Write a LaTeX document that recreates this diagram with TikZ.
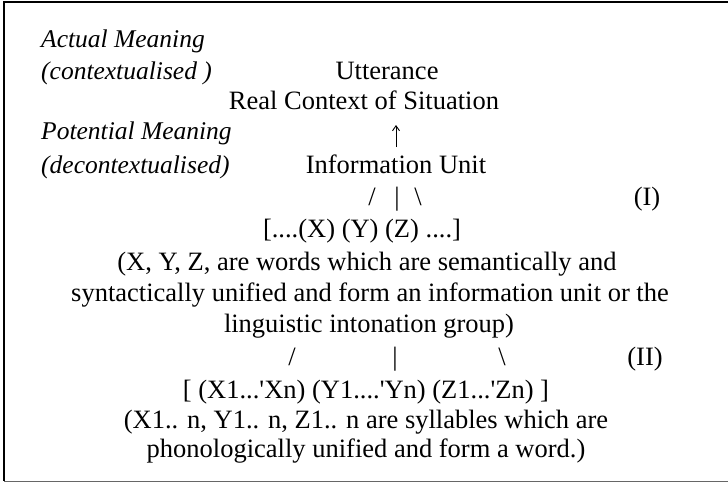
\documentclass[tikz,border=0pt]{standalone}
\usepackage{fontspec}
\usetikzlibrary{arrows.meta}
\setmainfont{Liberation Serif}
\begin{document}
\begin{tikzpicture}[x=1pt,y=-1pt,
            txt/.style={font=\fontsize{26.5}{30}\selectfont,inner sep=0pt,anchor=base},
            lbl/.style={font=\fontsize{25.5}{30}\selectfont\itshape,inner sep=0pt,anchor=base west}]
            \useasboundingbox (0,0) rectangle (728,483);
            \draw[line width=1.6pt] (728,2) -- (4,2) -- (4,481);
            \draw[line width=1pt,black!60] (4,481) -- (728,481);
            \node[lbl] (actual) at (41,47) {Actual Meaning};
            \node[lbl] (context) at (41,79) {(contextualised )};
            \node[lbl] (potential) at (41,139) {Potential Meaning};
            \node[lbl] (decontext) at (41,173) {(decontextualised)};
            \node[txt] (utter) at (387,79) {Utterance};
            \node[txt] (real) at (364,109) {Real Context of Situation};
            \coordinate (upfoot) at (396,147);
            \coordinate (uptip) at (396,125);
            \draw[-{Straight Barb[length=5pt,width=7pt]},line width=0.9pt] (upfoot) -- (uptip);
            \node[txt] (info) at (396,173) {Information Unit};
            \node[txt] (slashA) at (372,205) {/};
            \node[txt] (barA) at (397,205) {|};
            \node[txt] (bslashA) at (418,205) {\textbackslash};
            \node[txt] (levelA) at (647,205) {(I)};
            \node[txt] (words) at (362,237) {[....(X) (Y) (Z) ....]};
            \node[txt] (noteAa) at (367,270) {(X, Y, Z, are words which are semantically and};
            \node[txt] (noteAb) at (370,301) {syntactically unified and form an information unit or the};
            \node[txt] (noteAc) at (369,332) {linguistic intonation group)};
            \node[txt] (slashB) at (292,365) {/};
            \node[txt] (barB) at (395,365) {|};
            \node[txt] (bslashB) at (502,365) {\textbackslash};
            \node[txt] (levelB) at (645,365) {(II)};
            \node[txt] (sylls) at (366,398) {[ (X1...\textquotesingle Xn) (Y1....\textquotesingle Yn) (Z1...\textquotesingle Zn) ]};
            \node[txt] (noteBa) at (366,428) {(X1.. n, Y1.. n, Z1.. n are syllables which are};
            \node[txt] (noteBb) at (366,457) {phonologically unified and form a word.)};
        \end{tikzpicture}
\end{document}
